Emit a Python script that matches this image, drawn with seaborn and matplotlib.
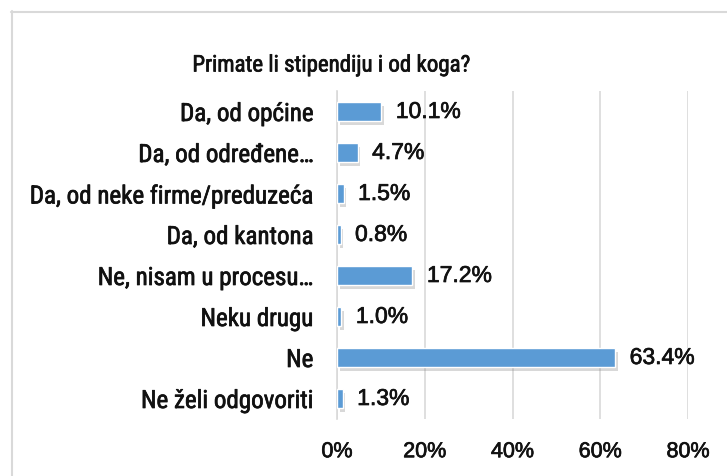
import seaborn as sns
import pandas as pd
import numpy as np
import matplotlib.pyplot as plt
import matplotlib.patheffects as pe
from matplotlib.lines import Line2D
from matplotlib.ticker import FuncFormatter

categories = ["Da, od općine", "Da, od određene…", "Da, od neke firme/preduzeća",
              "Da, od kantona", "Ne, nisam u procesu…", "Neku drugu", "Ne",
              "Ne želi odgovoriti"]
values = [10.1, 4.7, 1.5, 0.8, 17.2, 1.0, 63.4, 1.3]
x_ticks = [0, 20, 40, 60, 80]

df = pd.DataFrame({"odgovor": categories, "posto": values})

sns.set_style("white")
narrow = ["Roboto Condensed", "Archivo Narrow", "DejaVu Sans"]
plain = ["Liberation Sans", "DejaVu Sans"]
plt.rcParams["font.family"] = narrow

# slightly heavier text, like the original
heavy = [pe.withStroke(linewidth=0.5, foreground="#111111")]

fig = plt.figure(figsize=(7.27, 4.77), dpi=100)
ax = fig.add_axes([337 / 727, 1 - 420 / 477, (688 - 337) / 727, (420 - 92) / 477])

sns.barplot(data=df, y="odgovor", x="posto", orient="h", color="#5b9bd5",
            width=0.47, saturation=1, ax=ax, zorder=3)
for bar in ax.patches:
    bar.set_path_effects([pe.SimplePatchShadow(offset=(2, -3), alpha=0.3,
                                               shadow_rgbFace="#7f7f7f"),
                          pe.Normal()])

for i, v in enumerate(values):
    ax.text(v + 3.3, i, f"{v:.1f}%", va="center", ha="left", fontsize=16.5,
            family=plain, color="#111111", path_effects=heavy)

ax.set_xlim(0, 80)
ax.set_xticks(x_ticks)
ax.xaxis.set_major_formatter(FuncFormatter(lambda x, p: f"{x:.0f}%"))
ax.grid(axis="x", color="#d9d9d9", linewidth=1.2, zorder=0)
ax.set_xlabel("")
ax.set_ylabel("")
ax.tick_params(axis="y", length=0, pad=17, labelsize=18, labelcolor="#111111")
ax.tick_params(axis="x", length=0, pad=16, labelsize=15.5, labelcolor="#111111")
for lab in ax.get_yticklabels():
    lab.set_path_effects(heavy)
for lab in ax.get_xticklabels():
    lab.set_family(plain)
    lab.set_path_effects(heavy)
for s in ["top", "right", "bottom"]:
    ax.spines[s].set_visible(False)
ax.spines["left"].set_color("#d9d9d9")
ax.spines["left"].set_linewidth(1.2)

fig.text(331 / 727, 1 - 66 / 477, "Primate li stipendiju i od koga?", ha="center",
         va="center", fontsize=16.5, color="#111111", path_effects=heavy)

# outer chart border (left and top visible)
fig.add_artist(Line2D([11.5 / 727, 11.5 / 727], [0, 1 - 12 / 477], color="#d9d9d9",
                      linewidth=1.5, transform=fig.transFigure))
fig.add_artist(Line2D([11 / 727, 1], [1 - 12.5 / 477, 1 - 12.5 / 477], color="#d9d9d9",
                      linewidth=1.5, transform=fig.transFigure))

fig.savefig("out.png", dpi=100)
